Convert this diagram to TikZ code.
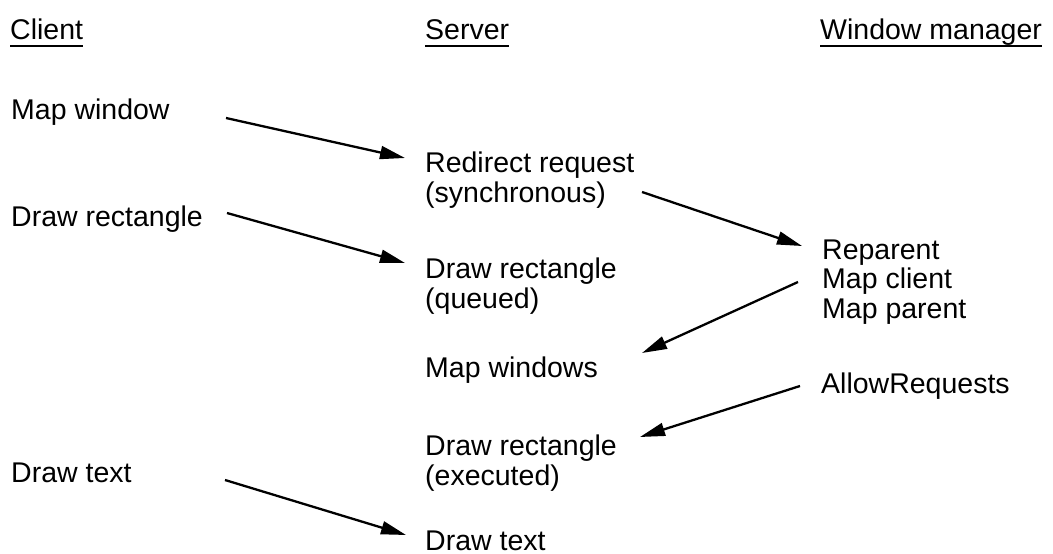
\documentclass[tikz,border=0pt]{standalone}
\usepackage{fontspec}
\setmainfont{Liberation Sans}
\usepackage{tikz}
\usetikzlibrary{arrows.meta}

\begin{document}
\begin{tikzpicture}[x=1pt, y=-1pt,
        lbl/.style={inner sep=0, anchor=base west, align=left, font=\fontsize{28.5}{29.5}\selectfont},
        msg/.style={line width=2.3pt, -{Triangle[length=25pt, width=13pt]}},
        uline/.style={line width=2pt}]
        \useasboundingbox (0, 0) rectangle (1053, 554);

        \node[lbl] (hcl) at (10, 39) {Client};
        \node[lbl] (hsv) at (425, 39) {Server};
        \node[lbl] (hwm) at (820, 39) {Window manager};
        \draw[uline] ([shift={(0, 7)}]hcl.base west) -- ([shift={(0, 7)}]hcl.base east);
        \draw[uline] ([shift={(0, 7)}]hsv.base west) -- ([shift={(0, 7)}]hsv.base east);
        \draw[uline] ([shift={(0, 7)}]hwm.base west) -- ([shift={(0, 7)}]hwm.base east);

        \node[lbl] (mapw) at (11, 119) {Map window};
        \node[lbl] (drawc) at (11, 226) {Draw rectangle};
        \node[lbl] (textc) at (11, 482) {Draw text};

        \node[lbl] (redir) at (425, 202) {Redirect request\\(synchronous)};
        \node[lbl] (drawq) at (425, 308) {Draw rectangle\\(queued)};
        \node[lbl] (mapws) at (425, 377) {Map windows};
        \node[lbl] (drawx) at (425, 485) {Draw rectangle\\(executed)};
        \node[lbl] (texts) at (425, 550) {Draw text};

        \node[lbl] (repar) at (822, 318) {Reparent\\Map client\\Map parent};
        \node[lbl] (allow) at (821, 393) {AllowRequests};

        \draw[msg] ([shift={(215, -1)}]mapw.base west) -- ([shift={(-20, -44)}]redir.base west);
        \draw[msg] ([shift={(217, -10)}]redir.base west) -- ([shift={(-20, -72)}]repar.base west);
        \draw[msg] ([shift={(216, -13)}]drawc.base west) -- ([shift={(-20, -45)}]drawq.base west);
        \draw[msg] ([shift={(-24, -36)}]repar.base west) -- ([shift={(217, -24)}]mapws.base west);
        \draw[msg] ([shift={(-21, -7)}]allow.base west) -- ([shift={(215, -48)}]drawx.base west);
        \draw[msg] ([shift={(214, -2)}]textc.base west) -- ([shift={(-19, -15)}]texts.base west);
    \end{tikzpicture}
\end{document}
